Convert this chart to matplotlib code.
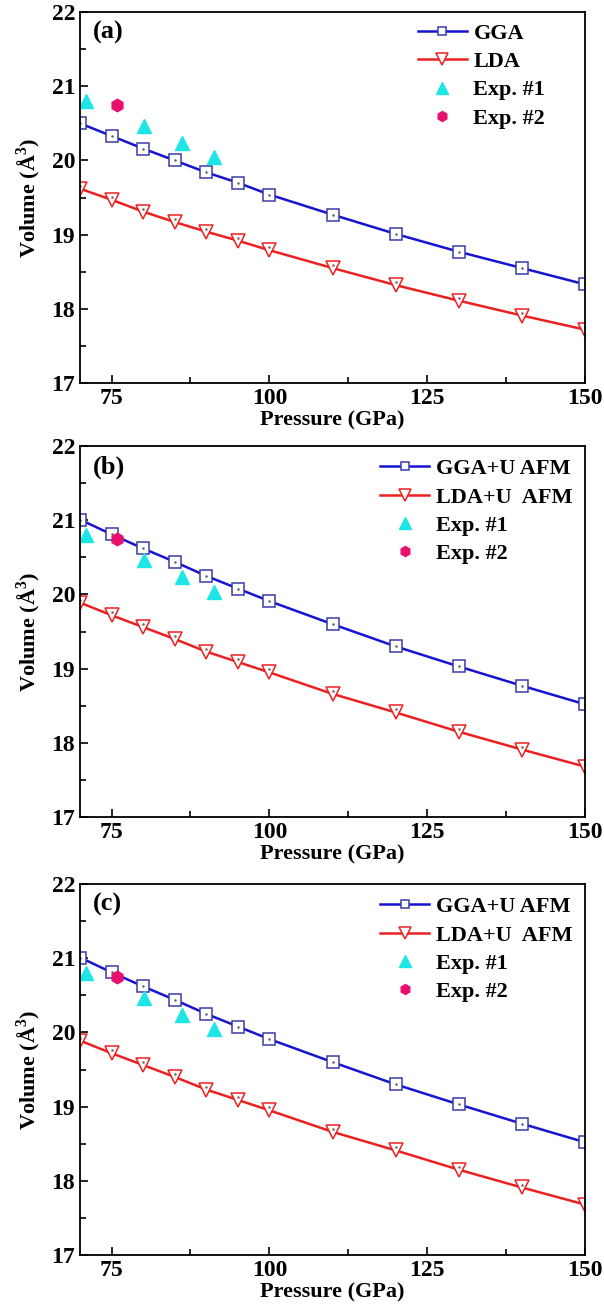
import matplotlib
matplotlib.use("Agg")
import matplotlib.pyplot as plt
from matplotlib.ticker import MultipleLocator

plt.rcParams["font.family"] = ["Liberation Serif", "DejaVu Serif"]
plt.rcParams["font.weight"] = "bold"
plt.rcParams["mathtext.fontset"] = "custom"
plt.rcParams["mathtext.rm"] = "Liberation Serif"
plt.rcParams["mathtext.bf"] = "Liberation Serif:bold"

# ------------------------- Data -------------------------
pressure = [70, 75, 80, 85, 90, 95, 100, 110, 120, 130, 140, 150]

vol_gga = [20.50, 20.33, 20.16, 20.00, 19.84, 19.70, 19.54, 19.27, 19.01, 18.77, 18.55, 18.33]
vol_lda = [19.62, 19.47, 19.31, 19.17, 19.04, 18.92, 18.79, 18.55, 18.32, 18.11, 17.91, 17.72]

vol_ggau = [21.01, 20.81, 20.62, 20.44, 20.25, 20.08, 19.91, 19.60, 19.30, 19.03, 18.77, 18.52]
vol_ldau = [19.89, 19.72, 19.56, 19.40, 19.23, 19.09, 18.95, 18.66, 18.41, 18.15, 17.91, 17.68]

exp1_p = [71.0, 80.1, 86.1, 91.2]
exp1_v = [20.80, 20.46, 20.24, 20.04]
exp2_p = [75.9]
exp2_v = [20.75]

panels = [
    ("(a)", "GGA", "LDA", vol_gga, vol_lda),
    ("(b)", "GGA+U AFM", "LDA+U  AFM", vol_ggau, vol_ldau),
    ("(c)", "GGA+U AFM", "LDA+U  AFM", vol_ggau, vol_ldau),
]

# ------------------------- Helper -------------------------
BLUE = "#1414d2"
BLUE_M = "#3a3aa8"
RED = "#ec2020"
CYAN = "#1ee6e6"
PINK = "#e8106e"


def draw_panel(ax, tag, lab1, lab2, v1, v2, leg_x, leg_y):
    ax.plot(pressure, v1, color=BLUE, lw=1.8, marker="s", ms=8,
            mfc="white", mec=BLUE_M, mew=1.1, label=lab1)
    ax.plot(pressure, v2, color=RED, lw=1.8, marker="v", ms=10,
            mfc="white", mec=RED, mew=1.1, label=lab2)
    # small centre dots in the open markers
    ax.plot(pressure, v1, ls="none", marker=".", ms=1.5, color="#555577")
    ax.plot(pressure, [v + 0.04 for v in v2], ls="none", marker=".", ms=1.5, color="#775555")
    ax.plot(exp1_p, exp1_v, ls="none", marker="^", ms=10, color=CYAN, label="Exp. #1")
    ax.plot(exp2_p, exp2_v, ls="none", marker="h", ms=9, color=PINK, label="Exp. #2")

    ax.set_xlim(70, 150)
    ax.set_ylim(17, 22)
    ax.xaxis.set_major_locator(MultipleLocator(25))
    ax.xaxis.set_minor_locator(MultipleLocator(12.5))
    ax.yaxis.set_major_locator(MultipleLocator(1))
    ax.yaxis.set_minor_locator(MultipleLocator(0.5))
    ax.tick_params(which="both", direction="in", labelsize=17, width=1.2)
    ax.tick_params(which="major", length=6)
    ax.tick_params(which="minor", length=4)
    for s in ax.spines.values():
        s.set_linewidth(1.3)

    ax.set_xlabel("Pressure (GPa)", fontsize=16, fontweight="bold", labelpad=1)
    ax.set_ylabel(r"Volume (Å$^{\mathbf{3}}$)", fontsize=16, fontweight="bold", labelpad=6)
    ax.text(0.025, 0.975, tag, transform=ax.transAxes, fontsize=19,
            fontweight="bold", va="top", ha="left")

    leg = ax.legend(loc="upper right", bbox_to_anchor=(leg_x, leg_y),
                    frameon=False, fontsize=16, numpoints=1,
                    handlelength=2.2, handletextpad=0.3, labelspacing=0.35,
                    borderaxespad=0.3, markerscale=0.8)
    for t in leg.get_texts():
        t.set_fontweight("bold")


# ------------------------- Draw Figure -------------------------
fig = plt.figure(figsize=(6.04, 13.14), dpi=100)
bottoms = [0.7085, 0.3782, 0.0449]
legend_anchor = [(0.952, 1.012), (1.006, 1.008), (1.006, 1.008)]
for b, (lx, ly), (tag, l1, l2, v1, v2) in zip(bottoms, legend_anchor, panels):
    ax = fig.add_axes([0.1325, b, 0.836, 0.2823])
    draw_panel(ax, tag, l1, l2, v1, v2, lx, ly)

fig.savefig("out.png", dpi=100)
